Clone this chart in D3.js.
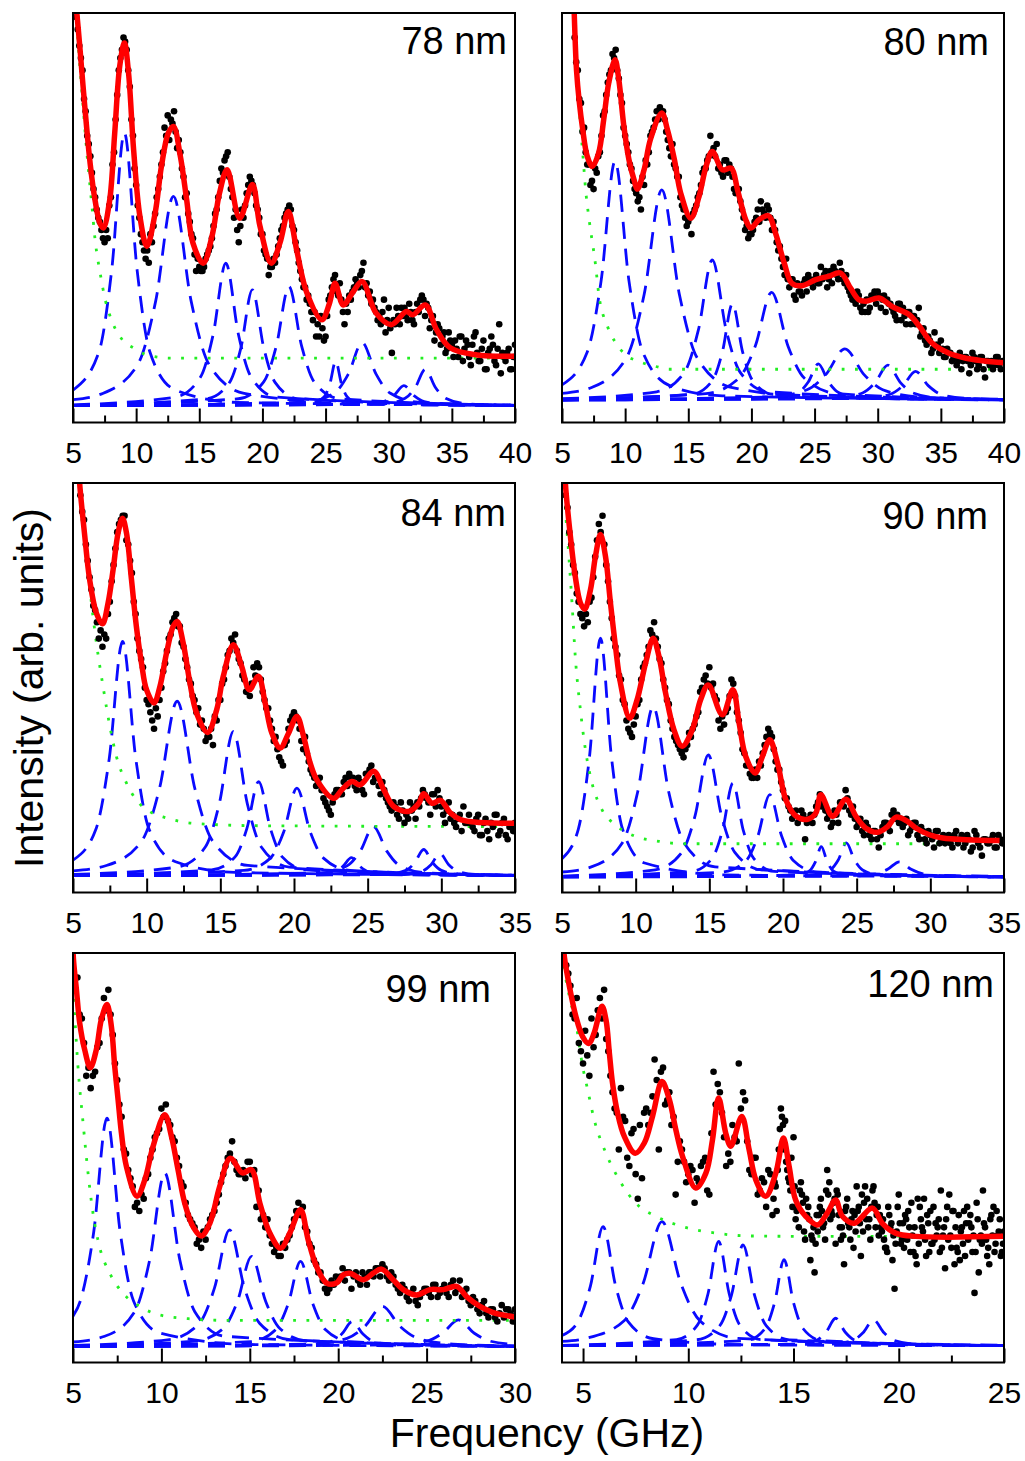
<!DOCTYPE html>
<html>
<head>
<meta charset="utf-8">
<script src="https://cdn.jsdelivr.net/npm/d3@7"></script>
<style>
  body { margin: 0; background: #fff; }
  text { font-family: "Liberation Sans", Arial, sans-serif; fill: #000; }
</style>
</head>
<body>
<div id="chart"></div>
<script>

// ---- panel labels, frequency ranges, tick labels ----
const labels = ["78 nm", "80 nm", "84 nm", "90 nm", "99 nm", "120 nm"];
const xDomains = [[5, 40], [5, 40], [5, 35], [5, 35], [5, 30], [4, 25]];
const tickVals = [
  [5, 10, 15, 20, 25, 30, 35, 40],
  [5, 10, 15, 20, 25, 30, 35, 40],
  [5, 10, 15, 20, 25, 30, 35],
  [5, 10, 15, 20, 25, 30, 35],
  [5, 10, 15, 20, 25, 30],
  [5, 10, 15, 20, 25]
];

// ---- measured spectra (intensity, arb. units 0-100) on fixed frequency grids ----
// "a" sweeps start on the quarter GHz, "b" sweeps are the interleaved channels
const dots78 = [99,92,86,76, 68,61,55,50, 47,44,45,55, 66,80,89,94, 91,82,70,58, 50,44,40,39,
  44,51,57,63, 72,75,74,76, 67,66,60,56, 49,45,37,38, 37,40,42,45, 51,55,62,64, 66,57,50,47,
  48,50,56,60, 58,53,50,46, 41,36,38,39, 43,47,50,52, 52,47,42,37, 33,30,29,25, 21,21,23,21,
  30,33,36,31, 30,24,27,30, 33,34,36,39, 34,32,30,27, 26,27,22,28, 17,24,26,28, 28,25,27,24,
  29,30,30,29, 23,26,22,23, 21,17,22,19, 20,16,21,18, 19,14,21,17, 15,20,13,18, 19,14,24,17,
  15,18,13,19];
const dots78b = [96,89,79,70, 65,57,52,49, 45,47,53,63, 74,86,91,93, 86,74,62,53, 46,42,42,46,
  48,55,60,66, 70,69,73,71, 69,62,55,51, 46,41,40,37, 38,41,43,48, 52,59,61,65, 60,55,52,44,
  52,53,58,59, 56,52,46,42, 40,38,40,41, 45,48,51,53, 48,44,39,35, 33,31,27,27, 24,26,20,26,
  31,35,32,34, 27,29,31,32, 35,33,37,33, 31,29,28,25, 24,30,25,23, 25,28,24,26, 26,29,25,27,
  27,31,26,28, 25,20,24,19, 22,18,20,16, 18,21,15,20, 16,19,22,15, 18,13,17,21, 15,18,12,16,
  17,13,16];
const dots80 = [94,86,78,72, 63,58,57,61, 66,75,80,85, 90,91,84,78, 70,66,62,57, 54,52,58,63,
  70,72,76,77, 76,71,67,68, 62,60,53,50, 49,46,52,55, 58,62,64,70, 67,68,63,60, 64,63,60,56,
  57,52,47,45, 46,49,52,54, 51,53,50,49, 44,43,38,40, 33,35,30,32, 31,35,36,34, 35,34,38,36,
  33,37,38,36, 39,35,36,32, 30,29,31,27, 27,27,31,32, 32,28,31,30, 29,27,25,29, 28,24,27,26,
  24,28,22,20, 21,17,22,19, 20,16,18,17, 16,14,17,15, 16,12,17,15, 14,16,11,15, 15,14,16,13,
  15];
const dots80b = [88,79,71,66, 63,59,62,65, 70,76,83,86, 89,86,80,72, 68,63,59,56, 55,60,64,66,
  71,74,74,76, 74,69,65,63, 60,55,52,48, 50,51,53,56, 61,62,65,66, 65,62,61,64, 61,62,57,57,
  54,50,48,46, 47,50,49,52, 50,52,47,47, 42,40,36,35, 35,31,34,32, 34,32,35,33, 36,34,35,37,
  35,34,37,35, 37,34,33,31, 30,32,28,29, 30,28,31,29, 31,30,27,29, 28,26,29,25, 26,27,24,26,
  25,21,23,19, 20,18,19,17, 18,16,17,15, 16,15,13,16, 15,14,16,13, 16,13,15,14, 13,16,14,15];
const dots84 = [97,91, 81,74,69,62, 60,62,71,80, 88,91,92,85, 78,68,59,55, 47,44,40,43,
  50,56,62,66, 68,65,60,55, 51,47,45,42, 37,38,36,42, 47,52,58,62, 63,57,53,49, 48,55,56,52,
  47,45,40,38, 33,31,37,42, 44,42,37,38, 32,29,26,28, 23,21,19,24, 25,24,28,29, 28,25,27,24,
  29,31,28,26, 27,23,21,22, 19,22,17,18, 20,18,21,25, 23,19,24,25, 21,17,22,19, 16,19,21,17,
  17,15,19,14, 18,13,16,19, 15,18,13,16, 17];
const dots84b = [93,85, 77,70,66,64, 63,68,76,84, 90,92,86,81, 71,62,57,50, 46,42,45,47,
  54,59,63,67, 65,61,57,52, 48,44,41,40, 38,40,43,47, 51,55,59,61, 59,56,52,50, 51,53,55,49,
  45,42,37,35, 32,36,40,43, 43,40,35,34, 30,28,27,25, 22,20,22,25, 24,27,26,28, 26,28,25,29,
  30,27,28,24, 25,22,20,21, 18,20,19,22, 21,22,23,24, 22,24,21,23, 19,20,18,17, 18,15,17,19,
  16,18,14,17, 15,17,19,14, 17,14,16,15];
const dots90 = [97,88,80, 73,68,65,66, 72,82,90,92, 80,71,62,58, 52,46,40,38, 43,47,55,58,
  64,66,60,56, 50,46,40,37, 35,33,36,38, 41,44,50,53, 55,51,47,40, 41,45,52,48, 42,35,31,29,
  28,28,31,36, 40,38,32,30, 25,23,20,19, 17,20,13,18, 17,21,24,22, 18,16,20,17, 22,25,20,21,
  16,18,14,16, 13,15,11,16, 17,15,20,19, 18,17,14,16, 17,13,15,12, 14,11,15,13, 12,14,11,15,
  13,11,14,10, 15,12,9,13, 12,14,11,13, 12];
const dots90b = [94,85,78, 71,67,68,71, 77,86,88,85, 76,67,60,53, 47,42,39,41, 46,52,56,60,
  63,62,57,52, 47,42,38,36, 34,35,39,40, 43,49,52,51, 50,48,42,43, 44,48,51,44, 39,34,31,28,
  30,32,34,38, 39,35,30,27, 23,21,18,20, 18,19,17,19, 19,22,21,20, 19,17,19,22, 21,23,19,18,
  17,15,17,14, 15,13,14,17, 16,19,18,17, 16,18,15,17, 14,16,13,15, 13,15,12,14, 13,12,14,12,
  14,12,13,11, 14,11,13,12, 13,11,14,12];
const dots99 = [94,84,70, 67,71,78,89, 91,80,69,60, 51,45,38,37, 40,46,52,56, 62,63,58,54,
  48,43,36,34, 29,28,30,35, 37,41,46,50, 54,47,46,45, 49,47,42,36, 35,29,28,26, 28,31,35,39,
  38,32,28,24, 22,18,18,19, 20,23,22,18, 22,19,21,22, 21,23,24,21, 22,19,17,18, 15,18,14,17,
  18,16,19,17, 19,16,20,18, 16,18,14,15, 12,15,11,13, 10,14,13,12, 13];
const dots99b = [85,78,72, 70,77,84,86, 85,73,63,52, 47,43,39,41, 45,50,55,57, 60,59,55,50,
  44,39,35,33, 30,32,33,36, 39,44,48,51, 49,46,47,49, 46,38,35,33, 31,27,26,29, 30,33,37,36,
  33,29,25,22, 20,17,20,21, 21,20,22,21, 20,22,19,22, 23,21,23,20, 21,18,19,16, 17,15,16,18,
  17,19,16,18, 17,19,17,20, 17,15,16,13, 14,12,13,11, 12,11,13,10];
const dots120 = [97,92,84,78, 73,75,84,80,89, 91,76,66,61,67, 59,48,57,40,45, 62,61,74,52,72,
  64,58,41,54,49, 46,47,45,48,50, 41,71,68,61,48, 49,55,73,66,54, 46,50,42,44,47, 36,37,62,59,44,
  55,38,41,40,25, 22,36,33,47,37, 29,33,24,34,37, 43,26,43,35,43, 38,32,28,33,18, 41,34,30,39,26,
  38,40,34,29,31, 42,23,41,37,27, 33,34,36,17,22, 42,26,36,29,35, 32];
const dots120b = [95,85,89,76, 81,70,77,86,84, 79,70,62,52,60, 50,56,46,58,61, 58,65,69,71,63,
  66,60,49,52,44, 48,39,44,49,42, 56,63,66,55,51, 58,54,62,64,47, 50,41,45,38,46, 44,52,58,47,50,
  35,42,32,38,30, 36,40,30,44,39, 41,33,38,30,36, 38,32,40,38,33, 36,30,38,25,32, 29,36,33,27,40,
  33,26,37,30,35, 31,38,28,33,25, 37,30,27,39,31, 33,24,38,31,27];
const dots120c = [40,47,60,49,42, 43,33,39,36,31, 29,38,34,41,36, 42,30,37,33,28, 37,41,35,30,39,
  31,35,27,34,29, 34,28,37,31,24, 35,30,27,38,33, 28,35,31,24,36, 29,38,33,27,30, 34,28,31,37,26];
const dots120d = [43,57,52,45,38, 37,44,30,35,33, 32,37,42,35,40, 36,31,40,35,32, 34,39,33,42,36,
  33,28,36,31,38, 30,35,27,33,29, 32,36,29,34,27, 33,30,37,28,32, 26,34,31,35,29, 30,35,27,32,29];

// ---- fitted total curve [GHz, intensity] ----
const fit78 = [[5.15,104],[5.3,100],[5.56,91],[5.96,76.2],[6.36,63.2],[6.75,54.2],[7.15,48.5],[7.4,47.5],
  [7.9,54.2],[8.3,70.5],[8.7,87],[9.07,92.7],[9.4,85.3],[9.8,66.6],[10.3,50.3],[10.85,43.0],[11.5,51.1],
  [12.0,62.5],[12.55,70.7],[12.95,72.3],[13.5,65],[14.0,54.4],[14.5,43.8],[15.3,38.9],[16.0,45.4],
  [16.6,56],[17.2,61.7],[18.2,49.9],[19.2,58.1],[19.8,48],[20.7,38.9],[21.4,44],[22.05,51.5],[22.7,42.3],
  [23.5,31.8],[24.7,25.1],[25.3,29],[25.75,34.0],[26.4,28.7],[27.2,32],[27.9,34.4],[29.0,26.7],
  [30.2,23.9],[31.4,27.1],[31.9,26.3],[32.9,28.7],[33.8,22.6],[34.9,18.2],[37.0,16.5],[40,16.2]];
const fit80 = [[5.93,104],[6.0,97],[6.15,86],[6.36,78.5],[6.62,72],[7.0,65],[7.4,62.5],[7.9,65.8],
  [8.3,73.9],[8.7,82.9],[9.2,88.6],[9.5,83.7],[9.9,72.3],[10.3,64.2],[10.7,59.3],[10.97,57],[11.5,61.7],
  [12.0,69.1],[12.9,75.6],[13.35,71.5],[13.9,64.2],[14.4,56],[15.2,49.9],[15.85,55.2],[16.4,62.5],
  [16.9,66.2],[17.7,61.7],[18.4,62.1],[18.9,56.8],[19.55,49.5],[19.95,47.5],[20.6,49.5],[21.35,50.5],
  [21.9,46.3],[22.6,38.9],[23.2,34],[24.0,33.4],[25.1,34.9],[26.1,35.7],[27.05,36.5],[27.85,32.8],
  [28.5,30],[29.05,29.6],[30.1,30.4],[31.15,28.3],[32.5,26.3],[33.3,23.5],[34.3,19.4],[35.65,16.9],
  [37.0,15.7],[38.3,15.1],[40,14.6]];
const fit84 = [[5.4,104],[5.45,100],[5.8,87],[6.13,76.4],[6.59,68.2],[7.0,65.6],[7.38,70.7],[7.72,78.8],
  [8.06,87.8],[8.36,91.4],[8.63,87.8],[8.97,76.4],[9.3,65],[9.65,56],[9.99,49.5],[10.5,46.3],[10.9,50.3],
  [11.35,58.5],[11.8,65],[12.07,66.2],[12.48,60.9],[12.94,51.1],[13.39,43.8],[14.14,39.1],[14.75,44.6],
  [15.2,52.8],[15.88,60.5],[16.45,55.2],[16.97,49.5],[17.58,52.8],[18.04,46.3],[18.5,38.9],[19.06,35.3],
  [19.63,38.9],[20.2,43],[20.65,38.1],[21.1,31.6],[21.55,27.5],[22.69,23],[23.25,25.1],[23.93,27.1],
  [24.5,26.3],[25.41,29.6],[26.09,25.1],[26.77,21],[27.79,19.8],[28.47,21.8],[28.8,24.1],[29.37,21.8],
  [29.94,22.5],[30.62,19.4],[31.3,17.8],[32.66,17.1],[35,16.9]];
const fit90 = [[5.2,104],[5.23,100],[5.57,87],[5.9,77.2],[6.25,70.7],[6.54,69.2],[6.93,73.9],[7.27,82.1],
  [7.61,87.4],[7.95,82.1],[8.29,70.7],[8.63,60.1],[8.97,51.1],[9.6,42.6],[10.1,47.1],[10.67,56],
  [11.19,62.1],[11.58,57.7],[12.03,48.7],[12.6,39.7],[13.16,35.7],[13.84,39.7],[14.41,47.1],[14.93,50.7],
  [15.88,43.4],[16.6,49.5],[17.02,41.4],[17.47,33.2],[18.1,29.2],[18.6,33.2],[19.1,37.3],[19.63,31.6],
  [20.2,22.6],[20.9,18.6],[21.67,17.9],[22.23,19.4],[22.57,23.9],[23.37,18.6],[24.27,22.8],[24.95,18.6],
  [25.63,15.7],[26.43,14.7],[27.1,16.1],[27.68,18.4],[28.47,17.3],[29.04,15.7],[29.94,14.1],[30.85,13.3],
  [32.44,12.9],[34.7,12.7]];
const fit99 = [[4.98,102],[5.04,97.7],[5.19,91.2],[5.38,82.9],[5.66,76.4],[5.98,72],[6.32,76.4],[6.6,83.7],
  [6.92,87.4],[7.17,82.1],[7.36,72.3],[7.55,64.2],[7.74,56],[8.02,47.9],[8.62,40.6],[9.06,44.6],
  [9.53,52.8],[10.19,60.5],[10.57,55.2],[10.94,47.1],[11.32,38.9],[11.79,33.2],[12.26,30.9],[12.74,34],
  [13.3,43],[13.9,49.9],[14.58,46.3],[15.09,47.1],[15.57,38.9],[16.13,31.6],[16.74,27.9],[17.26,31.6],
  [17.87,37.3],[18.3,30],[18.77,23.5],[19.34,19.4],[19.9,19.4],[20.28,21.4],[20.66,21.8],[21.42,20.2],
  [21.98,21.8],[22.45,22.8],[23.11,20.2],[23.68,17.8],[24.43,16.5],[25.19,17.8],[25.94,17.8],[26.7,18.6],
  [27.26,16.1],[28.02,13.7],[28.77,12.2],[30,11.1]];
const fit120 = [[4.05,104],[4.11,99.2],[4.35,91.9],[4.66,84.5],[4.98,79.6],[5.27,77.9],[5.53,80.5],[5.9,87],
  [6.09,83.7],[6.25,75.6],[6.4,68.2],[6.64,60.9],[6.96,55.2],[7.48,51.1],[7.91,53.6],[8.3,60.1],[8.75,68.6],
  [9.1,64.2],[9.41,56.8],[9.73,50.3],[10.36,42.6],[10.84,46.3],[11.15,54.4],[11.44,64.6],[11.78,56],
  [12.02,52.8],[12.54,60.1],[12.89,52],[13.21,44.6],[13.68,40.6],[14.16,46.3],[14.52,54.8],[14.79,47.9],
  [15.1,39.7],[15.58,35.7],[16.14,33.6],[16.6,36.5],[17.0,39.7],[17.32,35.7],[17.88,34],[18.75,37.7],
  [19.22,34],[19.85,31.6],[20.8,30.8],[25,30.8]];

// ---- background component [GHz, intensity] ----
const bg78 = [[5.2,104],[5.4,93],[5.7,81],[6.1,65.8],[6.5,52.8],[6.75,44.6],[7.15,36.5],[7.55,30],[7.9,26.3],
  [8.9,20.2],[9.8,18.2],[10.85,16.5],[12.7,15.7],[40,15.7]];
const bg80 = [[5.9,104],[5.96,92.7],[6.09,87.8],[6.22,82.1],[6.36,76.4],[6.62,66.6],[6.9,55.9],[7.15,49.5],
  [7.67,38.1],[7.9,31.6],[8.6,23.5],[9.26,19.4],[10.05,16.5],[11.1,14.9],[12.4,13.7],[13.5,13.0],[40,13.0]];
const bg84 = [[5.4,104],[5.45,100],[5.9,82.9],[6.25,70.7],[6.59,60.9],[7.04,50.3],[7.5,40.6],[7.95,33.2],
  [8.63,26.7],[9.3,22.6],[10.2,19.8],[11.35,18.2],[13.16,16.9],[17.7,16.3],[35,16.1]];
const bg90 = [[5.1,104],[5.2,96],[5.45,82.9],[5.68,70.7],[5.9,57.7],[6.25,44.6],[6.59,34.9],[7.04,26.7],
  [7.72,20.2],[8.63,16.5],[9.99,13.7],[11.58,12.5],[13.16,11.9],[35,11.9]];
const bg99 = [[4.98,92],[5.09,85],[5.28,72.3],[5.57,58.5],[5.85,46.3],[6.13,36.5],[6.5,28.3],[7.08,21.8],
  [7.83,16.9],[8.77,13.7],[9.9,11.6],[11.8,10.6],[13.5,10.3],[30,10.3]];
const bg120 = [[4.05,100],[4.11,96.7],[4.35,89.4],[4.66,82.9],[4.98,72.3],[5.22,66.6],[5.53,59.3],[6.09,51.1],
  [6.72,44.6],[7.51,38.9],[8.46,35.7],[9.73,33.2],[11.31,31.6],[12.9,30.9],[16.06,30.8],[25,30.8]];

// ---- single-mode components [GHz, intensity] ----
const peaks78 = [
  [[5,7.9],[7.07,17.4],[8.07,37.4],[9.07,70.7],[10.07,37.4],[11.07,17.4],[13.07,8.0],[18,4.9],[40,4.2]],
  [[5,5.6],[7.35,7.1],[10.15,14.3],[11.55,29.7],[12.95,55.2],[14.35,29.7],[15.75,14.3],[18.55,7.1],[27.95,4.5],[40,4.2]],
  [[5,4.3],[13.1,6.2],[15.1,11.1],[16.1,21.5],[17.1,38.9],[18.1,21.5],[19.1,11.1],[21.1,6.2],[40,4.2]],
  [[5,4.2],[15.6,5.8],[17.4,9.8],[18.3,18.3],[19.2,32.4],[20.1,18.3],[21.0,9.8],[22.8,5.8],[40,4.1]],
  [[5,4.2],[18.1,5.8],[20.1,9.9],[21.1,18.7],[22.1,33.2],[23.1,18.7],[24.1,9.9],[26.1,5.8],[40,4.2]],
  [[5,4.1],[24.0,4.7],[24.9,6.3],[25.35,9.55],[25.8,15],[26.25,9.55],[26.7,6.3],[27.6,4.7],[40,4.1]],
  [[5,4.1],[23.5,5.0],[25.7,7.2],[26.8,11.8],[27.9,19.5],[29.0,11.8],[30.1,7.2],[32.3,5.0],[40,4.2]],
  [[5,4.1],[28.0,4.4],[29.6,5.1],[30.4,6.55],[31.2,9],[32.0,6.55],[32.8,5.1],[34.4,4.4],[40,4.1]],
  [[5,4.1],[29.7,4.6],[31.3,5.9],[32.1,8.55],[32.9,13],[33.7,8.55],[34.5,5.9],[36.1,4.6],[40,4.1]]
];
const peaks80 = [
  [[5,9.2],[7.0,17.2],[8.1,34.65],[9.2,63.8],[10.3,34.65],[11.4,17.2],[13.6,8.9],[17.7,6.5],[40,5.6]],
  [[5,7.1],[7.3,8.5],[10.1,15.8],[11.5,31.2],[12.9,56.8],[14.3,31.2],[15.7,15.8],[18.5,8.5],[26,6.1],[40,5.6]],
  [[5,5.8],[12.5,7.5],[14.7,12.3],[15.8,22.6],[16.9,39.7],[18.0,22.6],[19.1,12.3],[21.3,7.5],[40,5.6]],
  [[5,5.6],[15.3,6.9],[16.9,10.2],[17.7,17.25],[18.5,29],[19.3,17.25],[20.1,10.2],[21.7,6.9],[40,5.5]],
  [[5,5.7],[16.4,7.05],[19.0,10.8],[20.3,18.65],[21.6,31.8],[22.9,18.65],[24.2,10.8],[26.8,7.05],[40,5.6]],
  [[5,5.5],[22.1,6.0],[23.7,7.3],[24.5,9.9],[25.3,14.3],[26.1,9.9],[26.9,7.3],[28.5,6.0],[40,5.5]],
  [[5,5.6],[21.4,6.2],[24.4,8.0],[25.9,11.75],[27.4,18],[28.9,11.75],[30.4,8.0],[33.4,6.2],[40,5.7]],
  [[5,5.5],[26.8,6.0],[28.8,7.2],[29.8,9.75],[30.8,14],[31.8,9.75],[32.8,7.2],[34.8,6.0],[40,5.6]],
  [[5,5.5],[29.0,5.9],[31.0,6.9],[32.0,9.0],[33.0,12.5],[34.0,9.0],[35.0,6.9],[37.0,5.9],[40,5.6]]
];
const peaks84 = [
  [[5,7.9],[6.56,15.5],[7.46,32.7],[8.36,61.3],[9.26,32.7],[10.16,15.5],[11.96,7.5],[16,4.9],[35,4.2]],
  [[5,5.3],[7.27,6.6],[9.67,12.6],[10.87,25.4],[12.07,46.7],[13.27,25.4],[14.47,12.6],[16.87,6.6],[35,4.2]],
  [[5,4.4],[12.08,6.2],[13.98,11.1],[14.93,21.7],[15.88,39.3],[16.83,21.7],[17.78,11.1],[19.68,6.2],[35,4.2]],
  [[5,4.2],[14.4,5.5],[16.0,8.7],[16.8,15.6],[17.6,27.1],[18.4,15.6],[19.2,8.7],[20.8,5.5],[35,4.1]],
  [[5,4.1],[16.6,5.4],[18.4,8.4],[19.3,14.8],[20.2,25.5],[21.1,14.8],[22.0,8.4],[23.8,5.4],[35,4.2]],
  [[5,4.1],[21.5,4.4],[22.7,5.0],[23.3,6.3],[23.9,8.5],[24.5,6.3],[25.1,5.0],[26.3,4.4],[35,4.1]],
  [[5,4.1],[21.8,4.8],[23.6,6.5],[24.5,10.1],[25.4,16.1],[26.3,10.1],[27.2,6.5],[29.0,4.8],[35,4.2]],
  [[5,4.1],[26.4,4.5],[27.6,5.4],[28.2,7.3],[28.8,10.5],[29.4,7.3],[30.0,5.4],[31.2,4.5],[35,4.1]],
  [[5,4.1],[27.5,4.4],[28.7,5.2],[29.3,6.8],[29.9,9.5],[30.5,6.8],[31.1,5.2],[32.3,4.4],[35,4.1]]
];
const peaks90 = [
  [[5,8.25],[6.11,15.5],[6.86,32.95],[7.61,62.1],[8.36,32.95],[9.11,15.5],[10.61,7.2],[16,4.3],[35,3.85]],
  [[5,5.0],[6.99,6.25],[9.09,12.1],[10.14,24.6],[11.19,45.4],[12.24,24.6],[13.29,12.1],[15.39,6.25],[35,3.9]],
  [[5,4.0],[11.33,5.55],[13.13,9.8],[14.03,18.7],[14.93,33.6],[15.83,18.7],[16.73,9.8],[18.53,5.55],[35,3.85]],
  [[5,3.9],[13.8,5.15],[15.2,8.4],[15.9,15.25],[16.6,26.7],[17.3,15.25],[18.0,8.4],[19.4,5.15],[35,3.8]],
  [[5,3.8],[15.9,5.0],[17.5,7.8],[18.3,13.85],[19.1,23.9],[19.9,13.85],[20.7,7.8],[22.3,5.0],[35,3.8]],
  [[5,3.8],[21.0,4.25],[21.8,5.3],[22.2,7.5],[22.6,11.2],[23.0,7.5],[23.4,5.3],[24.2,4.25],[35,3.8]],
  [[5,3.8],[22.1,4.3],[23.2,5.5],[23.75,7.95],[24.3,12.1],[24.85,7.95],[25.4,5.5],[26.5,4.3],[35,3.8]],
  [[5,3.8],[24.7,4.0],[26.3,4.55],[27.1,5.65],[27.9,7.5],[28.7,5.65],[29.5,4.55],[31.1,4.0],[35,3.8]]
];
const peaks99 = [
  [[5,11.3],[5.42,15.1],[6.17,31.8],[6.92,59.7],[7.67,31.8],[8.42,15.1],[9.92,7.2],[15,4.4],[30,3.95]],
  [[5,5.0],[6.79,6.4],[8.49,12.4],[9.34,25.1],[10.19,46.3],[11.04,25.1],[11.89,12.4],[13.59,6.4],[30,4.0]],
  [[5,4.15],[10.45,5.6],[12.15,9.6],[13.0,18.15],[13.85,32.4],[14.7,18.15],[15.55,9.6],[17.25,5.6],[30,3.95]],
  [[5,4.0],[11.9,5.2],[13.5,8.3],[14.3,14.9],[15.1,25.9],[15.9,14.9],[16.7,8.3],[18.3,5.2],[30,3.95]],
  [[5,3.95],[15.07,5.1],[16.47,8.06],[17.17,14.3],[17.87,24.7],[18.57,14.3],[19.27,8.06],[20.67,5.1],[30,3.95]],
  [[5,3.9],[18.4,4.26],[19.6,5.1],[20.2,6.95],[20.8,10],[21.4,6.95],[22.0,5.1],[23.2,4.26],[30,3.9]],
  [[5,3.9],[18.5,4.5],[20.5,5.9],[21.5,8.8],[22.5,13.7],[23.5,8.8],[24.5,5.9],[26.5,4.5],[30,4.05]],
  [[5,3.9],[23.2,4.3],[25.0,5.2],[25.9,7.15],[26.8,10.4],[27.7,7.15],[28.6,5.2],[30,4.4]]
];
const peaks120 = [
  [[4,6.6],[4.75,9.9],[5.35,18.65],[5.95,33.2],[6.55,18.65],[7.15,9.9],[8.35,5.8],[13,4.3],[25,4.1]],
  [[4,5.15],[5.15,5.9],[6.95,10.2],[7.85,19.25],[8.75,34.4],[9.65,19.25],[10.55,10.2],[12.35,5.9],[25,4.2]],
  [[4,4.2],[9.44,5.6],[10.44,9.2],[10.94,16.85],[11.44,29.6],[11.94,16.85],[12.44,9.2],[13.44,5.6],[25,4.1]],
  [[4,4.1],[10.4,5.55],[11.5,9.0],[12.05,16.4],[12.6,28.7],[13.15,16.4],[13.7,9.0],[14.8,5.55],[25,4.1]],
  [[4,4.1],[12.75,5.35],[13.65,8.3],[14.1,14.6],[14.55,25.1],[15.0,14.6],[15.45,8.3],[16.35,5.35],[25,4.1]],
  [[4,4.1],[15.2,4.5],[16.1,5.45],[16.55,7.45],[17.0,10.8],[17.45,7.45],[17.9,5.45],[18.8,4.5],[25,4.1]],
  [[4,4.1],[16.8,4.5],[17.8,5.35],[18.3,7.25],[18.8,10.4],[19.3,7.25],[19.8,5.35],[20.8,4.5],[25,4.1]]
];

// sweep table: [first frequency, channel step, values]
const dotSeries = [
  [[5.25, 0.25, dots78], [5.375, 0.25, dots78b]],
  [[6.0, 0.25, dots80], [6.125, 0.25, dots80b]],
  [[5.5, 0.25, dots84], [5.625, 0.25, dots84b]],
  [[5.25, 0.25, dots90], [5.375, 0.25, dots90b]],
  [[5.25, 0.25, dots99], [5.375, 0.25, dots99b]],
  [[4.2, 0.2, dots120], [4.3, 0.2, dots120b], [14.05, 0.2, dots120c], [14.15, 0.2, dots120d]]
];
const fitsAll = [fit78, fit80, fit84, fit90, fit99, fit120];
const bgAll = [bg78, bg80, bg84, bg90, bg99, bg120];
const peaksAll = [peaks78, peaks80, peaks84, peaks90, peaks99, peaks120];

// ---- layout ----
const W = 1025, H = 1461;
const colX = [73, 562], rowY = [13, 483, 953];
const pw = 442, ph = 409.5;
const labelOffsets = [[8, 41], [15, 42], [9, 43], [16, 46], [24, 49], [10, 44]];

const svg = d3.select("#chart").append("svg")
  .attr("width", W)
  .attr("height", H);

labels.forEach((lab, i) => {
  const g = svg.append("g")
    .attr("transform", "translate(" + colX[i % 2] + "," + rowY[Math.floor(i / 2)] + ")");

  let x = d3.scaleLinear().domain(xDomains[i]).range([0, pw]);
  let y = d3.scaleLinear().domain([0, 100]).range([ph, 0]);

  g.append("clipPath").attr("id", "clip" + i)
    .append("rect").attr("width", pw).attr("height", ph);
  const plot = g.append("g").attr("clip-path", "url(#clip" + i + ")");

  let smooth = d3.line().x(d => x(d[0])).y(d => y(d[1])).curve(d3.curveMonotoneX);
  let fitLine = d3.line().x(d => x(d[0])).y(d => y(d[1])).curve(d3.curveCatmullRom.alpha(0.5));

  // single modes
  plot.append("g")
    .selectAll("path")
    .data(peaksAll[i])
    .join("path")
    .attr("d", smooth)
    .attr("fill", "none")
    .attr("stroke", "#0a0aff")
    .attr("stroke-width", 2.8)
    .attr("stroke-dasharray", "17,10");

  // background
  plot.append("path")
    .datum(bgAll[i])
    .attr("d", smooth)
    .attr("fill", "none")
    .attr("stroke", "#22ee22")
    .attr("stroke-width", 2.8)
    .attr("stroke-dasharray", "2.8,10.5");

  // measured points
  dotSeries[i].forEach(s => {
    plot.append("g")
      .selectAll("circle")
      .data(s[2])
      .join("circle")
      .attr("cx", (d, k) => x(s[0] + k * s[1]))
      .attr("cy", d => y(d))
      .attr("r", 3.3)
      .attr("fill", "#000");
  });

  // total fit
  plot.append("path")
    .datum(fitsAll[i])
    .attr("d", fitLine)
    .attr("fill", "none")
    .attr("stroke", "#ff0000")
    .attr("stroke-width", 5.5)
    .attr("stroke-linejoin", "round");

  // axes: major ticks with labels, minor ticks in between, all pointing inward
  const majors = tickVals[i];
  const minors = majors.slice(0, -1).map(t => t + 2.5);

  const axMajor = g.append("g")
    .attr("transform", "translate(0," + ph + ")")
    .call(d3.axisBottom(x).tickValues(majors).tickSize(-14).tickPadding(19).tickFormat(d3.format("d")));
  axMajor.select(".domain").remove();
  axMajor.attr("font-size", 30).attr("font-family", "Liberation Sans, Arial, sans-serif");
  axMajor.selectAll("line").attr("stroke-width", 2);

  const axMinor = g.append("g")
    .attr("transform", "translate(0," + ph + ")")
    .call(d3.axisBottom(x).tickValues(minors).tickSize(-7).tickFormat(() => ""));
  axMinor.select(".domain").remove();
  axMinor.selectAll("line").attr("stroke-width", 2);

  g.append("rect")
    .attr("width", pw)
    .attr("height", ph)
    .attr("fill", "none")
    .attr("stroke", "#000")
    .attr("stroke-width", 2);

  g.append("text")
    .attr("x", pw - labelOffsets[i][0])
    .attr("y", labelOffsets[i][1])
    .attr("text-anchor", "end")
    .attr("font-size", 38)
    .text(lab);
});

svg.append("text")
  .attr("transform", "translate(43,688) rotate(-90)")
  .attr("text-anchor", "middle")
  .attr("font-size", 41)
  .text("Intensity (arb. units)");

svg.append("text")
  .attr("x", 547)
  .attr("y", 1447)
  .attr("text-anchor", "middle")
  .attr("font-size", 41)
  .text("Frequency (GHz)");

</script>
</body>
</html>
